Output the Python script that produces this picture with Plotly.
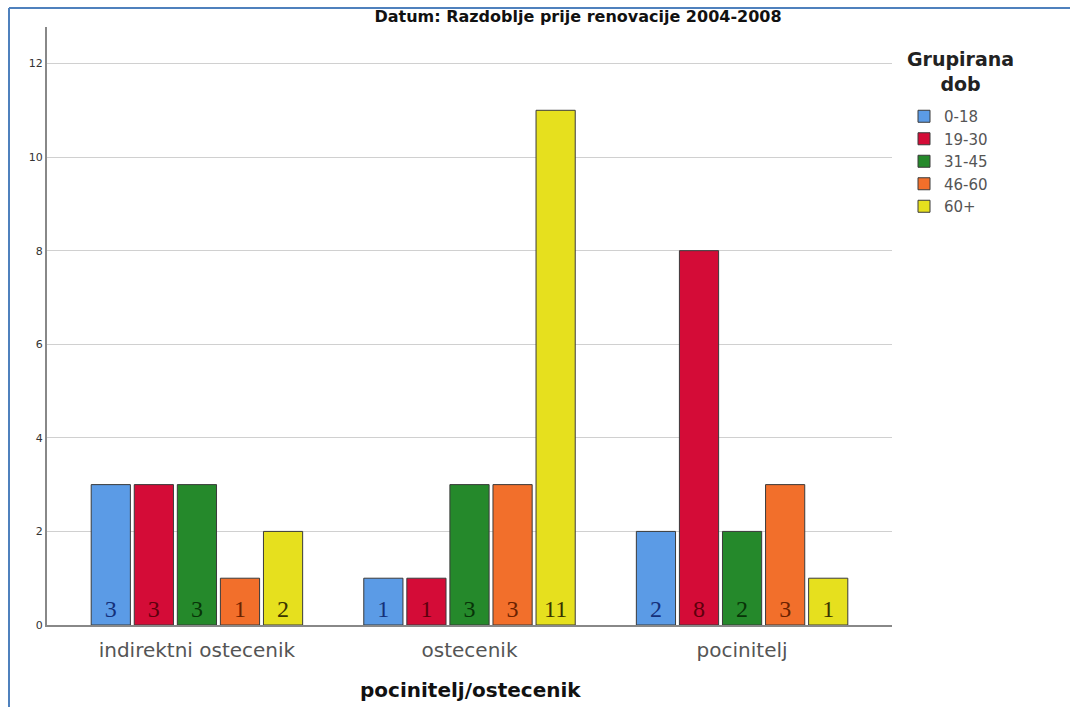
import plotly.graph_objects as go

categories = ["indirektni ostecenik", "ostecenik", "pocinitelj"]
age_groups = ["0-18", "19-30", "31-45", "46-60", "60+"]
values = {
    "0-18": [3, 1, 2],
    "19-30": [3, 1, 8],
    "31-45": [3, 3, 2],
    "46-60": [1, 3, 3],
    "60+": [2, 11, 1],
}
bar_colors = ["#5B9BE6", "#D40C37", "#25892B", "#F26F2B", "#E6E01E"]
text_colors = ["#14307A", "#5E000C", "#083408", "#6A2200", "#3A3400"]
title_text = "Datum: Razdoblje prije renovacije 2004-2008"
legend_title = "Grupirana<br>dob"
x_title = "pocinitelj/ostecenik"
y_ticks = [0, 2, 4, 6, 8, 10, 12]

SANS = "DejaVu Sans, Liberation Sans, sans-serif"

# pixel helpers (plot area 47..892 x, 27..625 y)
PX0, PX1, PY0, PY1 = 47, 892, 27, 625
def xp(px):
    return (px - PX0) / (PX1 - PX0)
def yp(py):
    return (PY1 - py) / (PY1 - PY0)

fig = go.Figure()
for g, c, tc in zip(age_groups, bar_colors, text_colors):
    vals = values[g]
    fig.add_trace(go.Bar(
        name=g, x=categories, y=vals,
        marker=dict(color=c, line=dict(color="#3a3a3a", width=1)),
        text=[str(v) for v in vals],
        textposition="inside", insidetextanchor="start",
        textangle=0,
        textfont=dict(family="Liberation Serif, Times New Roman, serif", size=24, color=tc),
        constraintext="none",
    ))

fig.update_layout(
    width=1070, height=707,
    paper_bgcolor="white", plot_bgcolor="white",
    margin=dict(l=PX0, r=1070 - PX1, t=PY0, b=707 - PY1, autoexpand=False),
    barmode="group", bargap=0.21, bargroupgap=0.09,
    title=dict(text=f"<b>{title_text}</b>", x=578 / 1070,
               xanchor="center", xref="container",
               y=1 - 16 / 707, yanchor="middle",
               font=dict(family=SANS, size=16, color="#111")),
    legend=dict(
        x=xp(904), xanchor="left", y=yp(100), yanchor="top",
        font=dict(family=SANS, size=15, color="#555"),
        itemwidth=30, tracegroupgap=0, traceorder="normal",
        bgcolor="rgba(0,0,0,0)",
    ),
    showlegend=True,
    uniformtext=dict(mode=False),
)
fig.add_annotation(
    text=f"<b>{legend_title}</b>", xref="paper", yref="paper",
    x=xp(960), y=yp(72), xanchor="center", yanchor="middle",
    showarrow=False, align="center",
    font=dict(family=SANS, size=19, color="#222"),
)
fig.add_annotation(
    text=f"<b>{x_title}</b>", xref="paper", yref="paper",
    x=xp(470), y=yp(690), xanchor="center", yanchor="middle",
    showarrow=False,
    font=dict(family=SANS, size=20, color="#111"),
)
fig.update_xaxes(
    range=[-0.55, 2.55], automargin=False,
    showline=True, linecolor="#888", linewidth=2,
    showgrid=False, ticks="", ticklabelstandoff=6,
    tickfont=dict(family=SANS, size=20, color="#555"),
)
fig.update_yaxes(
    range=[0, 12.78], tickvals=y_ticks, automargin=False,
    showline=True, linecolor="#888", linewidth=2,
    showgrid=True, gridcolor="#d0d0d0", gridwidth=1,
    zeroline=False, ticks="",
    tickfont=dict(family=SANS, size=11, color="#333"),
)
# screenshot frame lines
fig.add_shape(type="line", xref="paper", yref="paper",
              x0=xp(9), x1=xp(9), y0=yp(8), y1=yp(707),
              line=dict(color="#4F81BD", width=2))
fig.add_shape(type="line", xref="paper", yref="paper",
              x0=xp(9), x1=xp(1070), y0=yp(8), y1=yp(8),
              line=dict(color="#4F81BD", width=2))

fig.write_html("out.html", config={"displayModeBar": False},
               post_script="document.body.style.margin='0';")
